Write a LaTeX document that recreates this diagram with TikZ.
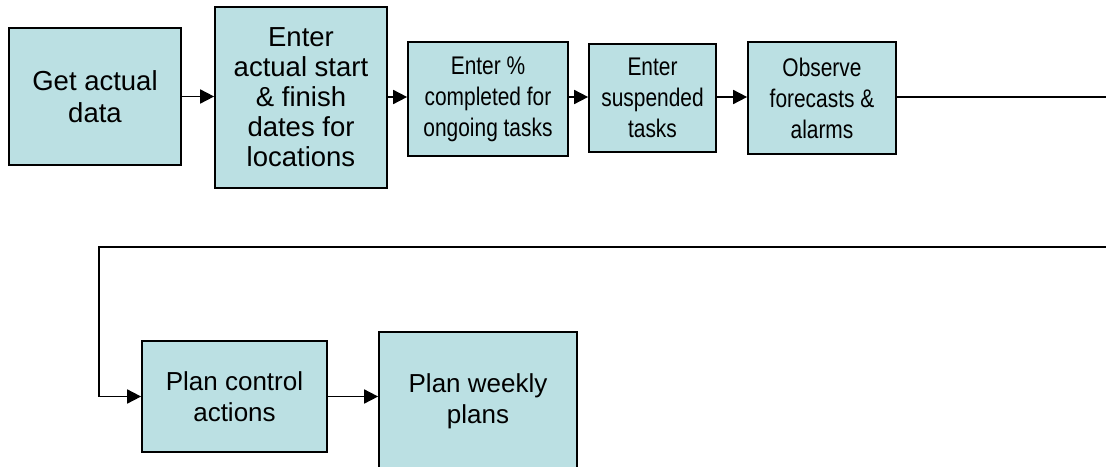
\documentclass[tikz,border=0pt]{standalone}
\usepackage{fontspec}
\setmainfont{Liberation Sans}
\newfontfamily\narrowsans[FakeStretch=0.82]{Liberation Sans}
\usetikzlibrary{arrows.meta}
\definecolor{boxfill}{RGB}{187,224,227}
\begin{document}
\begin{tikzpicture}[x=1pt,y=-1pt,
  stepbox/.style={draw=black, line width=1.7pt, fill=boxfill, align=center,
    inner sep=0pt},
  bigtext/.style={font=\fontsize{27.5}{32}\selectfont},
  midtext/.style={font=\fontsize{26}{31}\selectfont},
  narrowtext/.style={font=\narrowsans\fontsize{25.5}{31}\selectfont},
  flow/.style={line width=1.7pt, -{Triangle[length=14pt,width=14pt]}},
  plain/.style={line width=1.7pt}]
  \clip (0,0) rectangle (1106,466);
  \fill[white] (0,0) rectangle (1106,466);

  % top row
  \node[stepbox, bigtext, minimum width=172pt, minimum height=137pt] (b1) at (95,96.5) {Get actual\\data};
  \node[stepbox, font=\fontsize{27.5}{30}\selectfont, minimum width=172pt, minimum height=181pt] (b2) at (301,97.5) {Enter\\actual start\\\& finish\\dates for\\locations};
  \node[stepbox, narrowtext, minimum width=160pt, minimum height=114pt] (b3) at (488,99) {Enter \%\\completed for\\ongoing tasks};
  \node[stepbox, narrowtext, minimum width=127pt, minimum height=108pt] (b4) at (652.5,98) {Enter\\suspended\\tasks};
  \node[stepbox, narrowtext, minimum width=148pt, minimum height=112pt] (b5) at (822,98) {Observe\\forecasts \&\\alarms};

  % bottom row
  \node[stepbox, midtext, minimum width=185pt, minimum height=111pt] (b6) at (234.5,396.5) {Plan control\\actions};
  \node[stepbox, midtext, minimum width=198pt, minimum height=138pt] (b7) at (478,401) {Plan weekly\\plans};

  % connectors
  \coordinate (outR) at (1106,97);
  \coordinate (inR) at (1106,247);
  \coordinate (turn) at (99,247);

  \draw[flow] (b1.east) -- (b1.east -| b2.west);
  \draw[flow] (b2.east |- 0,97) -- (b3.west |- 0,97);
  \draw[flow] (b3.east |- 0,97) -- (b4.west |- 0,97);
  \draw[flow] (b4.east |- 0,97) -- (b5.west |- 0,97);
  \draw[plain] (b5.east |- outR) -- (outR);
  \draw[flow] (inR) -- (turn) |- (b6.west);
  \draw[flow] (b6.east) -- (b6.east -| b7.west);
\end{tikzpicture}
\end{document}
